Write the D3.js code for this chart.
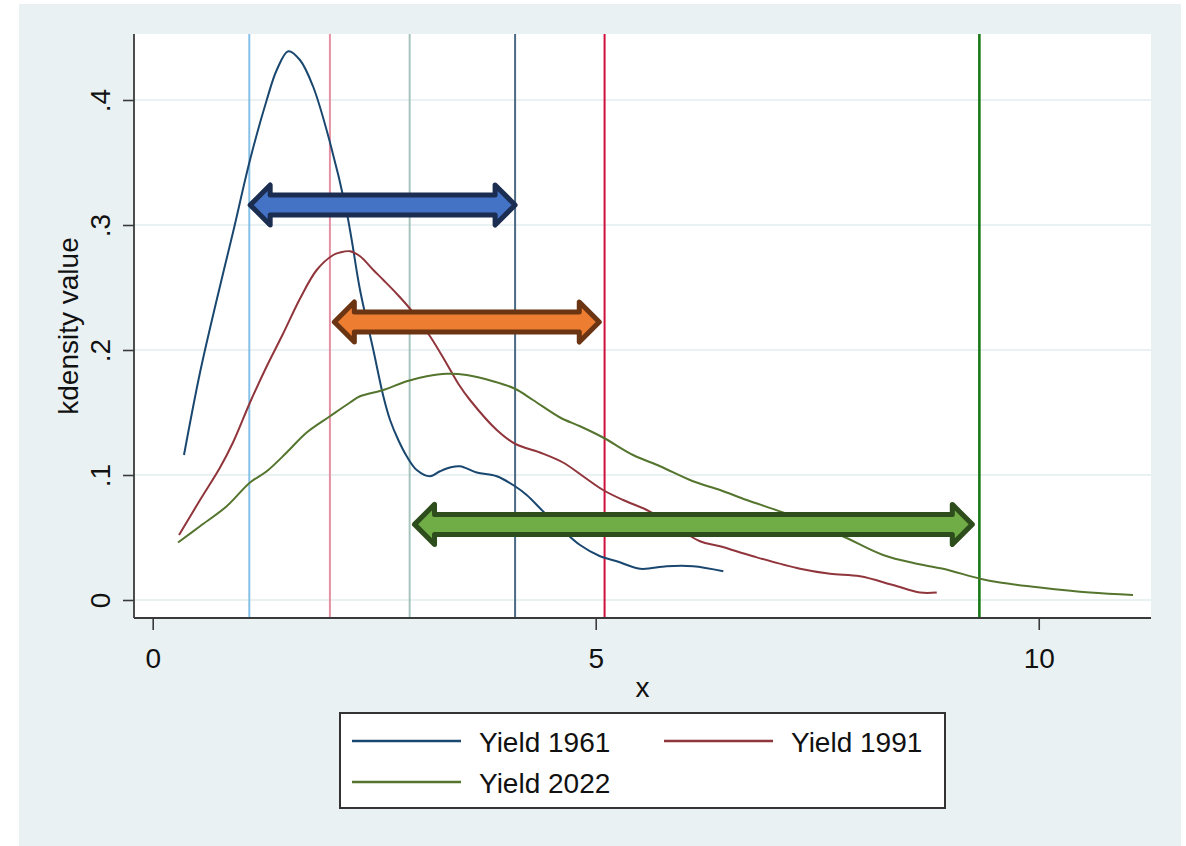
<!DOCTYPE html>
<html>
<head>
<meta charset="utf-8">
<script src="https://cdn.jsdelivr.net/npm/d3@7"></script>
<style>
  html, body { margin: 0; padding: 0; background: #ffffff; }
  svg { display: block; font-family: "Liberation Sans", Arial, sans-serif; }
</style>
</head>
<body>
<svg id="chart" width="1186" height="846"></svg>
<script>
// Kernel density estimates of yield, sampled along x
const yield1961 = [
  [0.353, 0.116], [0.534, 0.182], [0.722, 0.240], [0.906, 0.294], [1.098, 0.352],
  [1.287, 0.400], [1.400, 0.424], [1.530, 0.439], [1.662, 0.432], [1.809, 0.411],
  [2.001, 0.366], [2.190, 0.310], [2.246, 0.288], [2.340, 0.248], [2.490, 0.200],
  [2.603, 0.163], [2.679, 0.144], [2.772, 0.128], [2.867, 0.115], [2.980, 0.104],
  [3.130, 0.099], [3.243, 0.103], [3.356, 0.106], [3.468, 0.107], [3.657, 0.102],
  [3.883, 0.099], [4.089, 0.091], [4.221, 0.084], [4.405, 0.071], [4.597, 0.058],
  [4.823, 0.044], [5.049, 0.035], [5.237, 0.031], [5.501, 0.025], [5.801, 0.027],
  [6.098, 0.027], [6.440, 0.023]
];
const yield1991 = [
  [0.297, 0.052], [0.534, 0.080], [0.760, 0.106], [0.906, 0.126], [1.098, 0.158],
  [1.287, 0.187], [1.471, 0.213], [1.662, 0.241], [1.851, 0.264],
  [2.038, 0.276], [2.114, 0.278], [2.227, 0.279], [2.340, 0.275], [2.490, 0.264],
  [2.603, 0.256], [2.754, 0.245], [2.904, 0.233], [3.130, 0.211], [3.318, 0.189],
  [3.449, 0.173], [3.581, 0.160], [3.883, 0.136], [4.089, 0.125], [4.371, 0.118],
  [4.631, 0.110], [4.857, 0.099], [5.083, 0.088], [5.308, 0.080], [5.576, 0.072],
  [5.872, 0.060], [6.177, 0.047], [6.403, 0.043], [6.775, 0.035], [7.306, 0.025],
  [7.644, 0.021], [7.983, 0.019], [8.355, 0.012], [8.660, 0.006], [8.849, 0.006]
];
const yield2022 = [
  [0.286, 0.046], [0.534, 0.059], [0.835, 0.075], [1.098, 0.094], [1.287, 0.103],
  [1.512, 0.118], [1.738, 0.134], [2.001, 0.147], [2.227, 0.158], [2.340, 0.163],
  [2.603, 0.168], [2.867, 0.175], [3.093, 0.179], [3.318, 0.181], [3.544, 0.180],
  [3.841, 0.175], [4.089, 0.169], [4.292, 0.160], [4.597, 0.146], [4.823, 0.139],
  [5.083, 0.130], [5.421, 0.116], [5.726, 0.107], [6.098, 0.095], [6.403, 0.088],
  [6.704, 0.080], [7.114, 0.070], [7.758, 0.052], [8.243, 0.036], [8.623, 0.029],
  [8.920, 0.025], [9.338, 0.017], [9.563, 0.014], [10.014, 0.010], [10.579, 0.006],
  [11.064, 0.004]
];

const seriesNames = ["Yield 1961", "Yield 1991", "Yield 2022"];
const seriesColors = ["#1a476f", "#90353b", "#55752f"];

// Reference lines (x positions) and their colours
const refLineX = [1.09, 2.0, 2.9, 4.09, 5.1, 9.33];
const refLineColors = ["#86c0e6", "#e590a2", "#a6c3bc", "#4b6a86", "#d0103c", "#177a17"];

// Range arrows: start x, end x, height, fill, outline
const arrowFrom = [1.10, 2.05, 2.955];
const arrowTo = [4.09, 5.04, 9.25];
const arrowY = [0.316, 0.2224, 0.0605];
const arrowFill = ["#4472c4", "#ed7d31", "#70ad47"];
const arrowStroke = ["#1b2d50", "#6b3513", "#2e4d1c"];

const xTicks = [0, 5, 10];
const yTicks = [0, 0.1, 0.2, 0.3, 0.4];
const yTickLabels = ["0", ".1", ".2", ".3", ".4"];

const svg = d3.select("#chart");

// Outer graph region
svg.append("rect").attr("x", 19).attr("y", 4).attr("width", 1162).attr("height", 842)
  .attr("fill", "#eaf1f3");

const plotLeft = 134, plotRight = 1151, plotTop = 34, plotBottom = 618;
svg.append("rect").attr("x", plotLeft).attr("y", plotTop)
  .attr("width", plotRight - plotLeft).attr("height", plotBottom - plotTop)
  .attr("fill", "#ffffff");

const x = d3.scaleLinear().domain([-0.2111, 11.267]).range([plotLeft, plotRight]);
const y = d3.scaleLinear().domain([-0.0144, 0.4528]).range([plotBottom, plotTop]);

// Horizontal grid
svg.append("g").selectAll("line").data(yTicks).join("line")
  .attr("x1", plotLeft).attr("x2", plotRight)
  .attr("y1", d => y(d)).attr("y2", d => y(d))
  .attr("stroke", "#e9f1f3").attr("stroke-width", 2);

// Vertical reference lines
svg.append("g").selectAll("line").data(refLineX).join("line")
  .attr("x1", d => x(d)).attr("x2", d => x(d))
  .attr("y1", plotTop).attr("y2", plotBottom)
  .attr("stroke", (d, i) => refLineColors[i])
  .attr("stroke-width", (d, i) => i === 5 ? 2.6 : 2);

// Density curves
const line = d3.line().x(d => x(d[0])).y(d => y(d[1])).curve(d3.curveCatmullRom.alpha(0.5));
[yield1961, yield1991, yield2022].forEach((s, i) => {
  svg.append("path").datum(s).attr("d", line)
    .attr("fill", "none").attr("stroke", seriesColors[i]).attr("stroke-width", 2)
    .attr("stroke-linejoin", "round");
});

// Axes
const yAxis = svg.append("g").attr("transform", `translate(${plotLeft},0)`)
  .call(d3.axisLeft(y).tickValues(yTicks).tickFormat((d, i) => yTickLabels[i]).tickSize(11).tickSizeOuter(0));
yAxis.select(".domain").attr("d", `M0,${plotTop}V${plotBottom}`).attr("stroke", "#3a3a3a").attr("stroke-width", 1.8);
yAxis.selectAll(".tick line").attr("stroke", "#3a3a3a").attr("stroke-width", 1.6);
yAxis.selectAll(".tick text")
  .attr("x", null).attr("dy", null)
  .attr("transform", "translate(-24,0) rotate(-90)")
  .attr("text-anchor", "middle")
  .attr("font-size", 28).attr("fill", "#111")
  .attr("font-family", "Liberation Sans, Arial, sans-serif");

const xAxis = svg.append("g").attr("transform", `translate(0,${plotBottom})`)
  .call(d3.axisBottom(x).tickValues(xTicks).tickFormat(d3.format("d")).tickSize(12).tickSizeOuter(0));
xAxis.select(".domain").attr("d", `M${plotLeft},0H${plotRight}`).attr("stroke", "#3a3a3a").attr("stroke-width", 1.8);
xAxis.selectAll(".tick line").attr("stroke", "#3a3a3a").attr("stroke-width", 1.6);
xAxis.selectAll(".tick text")
  .attr("y", 50).attr("dy", null)
  .attr("font-size", 28).attr("fill", "#111")
  .attr("font-family", "Liberation Sans, Arial, sans-serif");

// Axis titles
svg.append("text").attr("x", (plotLeft + plotRight) / 2).attr("y", 697)
  .attr("text-anchor", "middle").attr("font-size", 28).attr("fill", "#111").text("x");
svg.append("text").attr("transform", `translate(78,${(plotTop + plotBottom) / 2}) rotate(-90)`)
  .attr("text-anchor", "middle").attr("font-size", 28).attr("fill", "#111").text("kdensity value");

// Double-headed range arrows
const headLen = 20, headHalf = 20, shaftHalf = 10;
function arrowPath(x1, x2, cy) {
  return [
    [x1, cy], [x1 + headLen, cy - headHalf], [x1 + headLen, cy - shaftHalf],
    [x2 - headLen, cy - shaftHalf], [x2 - headLen, cy - headHalf], [x2, cy],
    [x2 - headLen, cy + headHalf], [x2 - headLen, cy + shaftHalf],
    [x1 + headLen, cy + shaftHalf], [x1 + headLen, cy + headHalf]
  ].map((p, i) => (i ? "L" : "M") + p[0] + "," + p[1]).join("") + "Z";
}
svg.append("g").selectAll("path").data(arrowFrom).join("path")
  .attr("d", (d, i) => arrowPath(x(d), x(arrowTo[i]), y(arrowY[i])))
  .attr("fill", (d, i) => arrowFill[i])
  .attr("stroke", (d, i) => arrowStroke[i])
  .attr("stroke-width", 5)
  .attr("stroke-linejoin", "round");

// Legend
const lg = svg.append("g");
lg.append("rect").attr("x", 340).attr("y", 713).attr("width", 605).attr("height", 95)
  .attr("fill", "#ffffff").attr("stroke", "#333").attr("stroke-width", 2);
const legendPos = [[352, 741], [664, 741], [352, 782]];
seriesNames.forEach((name, i) => {
  const [lx, ly] = legendPos[i];
  lg.append("line").attr("x1", lx).attr("x2", lx + 109).attr("y1", ly).attr("y2", ly)
    .attr("stroke", seriesColors[i]).attr("stroke-width", 2.5);
  lg.append("text").attr("x", lx + 127).attr("y", ly + 11)
    .attr("font-size", 28).attr("fill", "#111").text(name);
});
</script>
</body>
</html>
